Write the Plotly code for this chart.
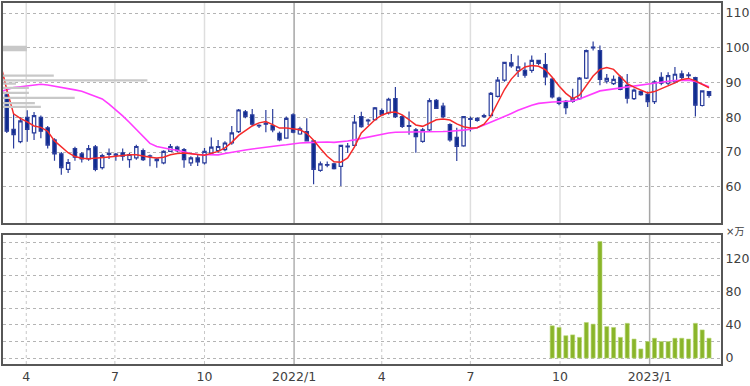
import pandas as pd
import plotly.graph_objects as go

# ---- weekly candles ----
dates = pd.date_range("2021-03-12", periods=104, freq="7D")
opens = [86.5, 76.5, 73.0, 80.0, 75.5, 80.0, 77.0, 73.5, 69.5, 65.0,
         71.0, 69.5, 68.0, 71.5, 65.5, 69.3, 69.4, 69.8, 67.8, 68.3,
         70.4, 68.8, 68.0, 66.9, 70.2, 71.4, 70.7, 66.9, 68.3, 66.9,
         69.7, 70.4, 70.7, 72.6, 75.9, 81.6, 80.7, 77.5, 78.3, 77.6,
         75.4, 74.0, 80.7, 75.2, 75.9, 73.2, 64.7, 66.4, 66.6, 65.9,
         71.5, 71.9, 80.2, 79.0, 79.3, 81.9, 81.3, 85.4, 80.2, 77.4,
         76.4, 73.1, 76.4, 84.9, 83.2, 77.9, 74.2, 71.8, 79.6, 79.1,
         80.2, 80.5, 86.0, 90.7, 95.7, 93.4, 93.5, 93.5, 96.4, 95.2,
         91.0, 85.5, 84.6, 84.6, 85.4, 91.3, 100.0, 99.2, 90.4, 89.7,
         91.6, 89.2, 85.4, 87.5, 86.6, 84.5, 91.5, 89.8, 90.2, 92.5,
         92.0, 91.4, 83.4, 87.4]
highs = [87.5, 81.0, 80.0, 82.0, 81.5, 80.5, 77.5, 74.0, 70.0, 68.0,
         71.5, 70.0, 72.0, 72.0, 69.5, 71.0, 69.7, 71.0, 69.7, 72.1,
         71.0, 69.3, 68.3, 70.5, 72.3, 71.8, 71.2, 68.8, 69.3, 71.2,
         74.2, 73.5, 73.1, 77.5, 82.4, 82.1, 82.4, 78.0, 82.1, 82.4,
         75.9, 80.2, 81.2, 77.3, 79.7, 73.5, 67.3, 67.3, 66.9, 72.1,
         72.6, 80.7, 81.6, 79.6, 83.0, 82.5, 85.6, 88.7, 80.7, 81.7,
         76.9, 76.9, 85.5, 85.3, 84.2, 78.3, 77.0, 80.3, 80.2, 80.0,
         81.0, 87.3, 91.6, 96.0, 98.2, 97.8, 95.8, 97.8, 96.6, 98.5,
         91.4, 85.9, 85.0, 88.2, 91.6, 99.5, 101.8, 100.7, 92.5, 92.0,
         92.0, 92.5, 88.3, 87.8, 87.4, 90.7, 93.0, 93.0, 94.5, 93.5,
         93.0, 91.7, 87.8, 87.6]
lows = [75.5, 71.0, 72.5, 73.0, 73.5, 74.0, 71.0, 67.5, 63.5, 64.0,
        67.5, 67.0, 67.5, 64.5, 65.0, 68.0, 67.5, 67.5, 65.5, 67.8,
        67.4, 65.9, 65.5, 66.5, 70.0, 70.0, 65.5, 66.0, 66.0, 66.4,
        69.3, 69.7, 70.2, 72.1, 75.5, 79.7, 77.6, 76.9, 75.7, 75.7,
        73.1, 73.8, 75.4, 75.0, 73.1, 60.7, 64.3, 65.6, 65.0, 60.2,
        69.7, 71.6, 77.0, 77.8, 79.0, 80.5, 80.8, 79.8, 76.9, 75.0,
        69.8, 72.7, 76.0, 82.4, 79.8, 73.0, 67.4, 71.5, 75.9, 78.7,
        79.8, 80.2, 85.7, 90.2, 94.3, 91.6, 91.4, 92.8, 95.0, 89.2,
        85.4, 83.5, 80.9, 84.2, 85.0, 91.0, 99.2, 89.2, 89.7, 89.3,
        87.8, 84.0, 85.0, 86.2, 83.0, 83.8, 89.2, 89.3, 89.8, 91.0,
        91.2, 80.2, 83.1, 85.6]
closes = [76.0, 75.0, 79.0, 76.5, 80.5, 76.0, 72.0, 69.5, 65.5, 67.0,
          68.5, 68.0, 71.0, 65.0, 69.0, 69.6, 69.1, 68.8, 69.3, 71.6,
          67.8, 68.9, 67.5, 70.2, 71.6, 70.4, 67.8, 68.3, 67.2, 70.2,
          71.4, 71.6, 72.6, 75.5, 82.1, 80.2, 78.0, 77.7, 78.0, 76.4,
          73.5, 79.7, 75.7, 76.7, 73.2, 65.0, 66.6, 66.2, 65.2, 71.9,
          71.7, 78.6, 77.3, 79.2, 82.7, 80.8, 85.2, 80.2, 77.4, 77.6,
          74.4, 76.4, 84.8, 82.6, 80.2, 73.5, 71.6, 80.2, 79.4, 79.7,
          80.5, 86.9, 90.7, 95.8, 94.8, 94.5, 92.1, 96.4, 95.5, 91.6,
          85.9, 84.0, 82.8, 85.5, 91.3, 99.2, 100.2, 90.9, 91.2, 90.9,
          88.0, 85.5, 87.8, 86.5, 84.5, 90.2, 89.8, 92.0, 92.4, 91.5,
          92.2, 83.5, 87.6, 86.3]

# ---- moving averages (one extra week before the first candle) ----
ma_dates = pd.date_range("2021-03-05", periods=105, freq="7D")
ma13 = [96.0, 88.0, 81.0, 79.7, 78.7, 77.5, 77.1, 76.0, 73.2, 71.6, 69.8,
        68.7, 68.2, 68.1, 68.2, 68.3, 68.6, 68.8, 69.1, 69.2, 69.2,
        68.8, 68.5, 68.3, 68.5, 69.2, 69.6, 69.7, 69.6, 69.3, 69.1,
        69.6, 70.2, 71.2, 72.8, 74.8, 76.2, 77.5, 78.4, 78.8, 77.9,
        76.9, 76.9, 76.7, 76.4, 75.4, 73.4, 71.0, 68.8, 67.2, 67.1,
        68.3, 71.5, 75.5, 77.5, 79.3, 80.6, 81.4, 81.5, 80.7, 79.3,
        77.8, 77.4, 78.3, 79.3, 79.5, 79.2, 78.1, 77.3, 76.9, 77.0,
        78.0, 80.4, 84.2, 88.0, 91.0, 93.1, 94.5, 94.9, 94.7, 93.7,
        91.5, 89.0, 86.9, 85.4, 86.4, 89.3, 91.9, 93.8, 94.3, 93.8,
        91.6, 89.7, 88.7, 87.8, 87.0, 87.4, 88.2, 88.9, 89.9, 90.9,
        91.2, 90.5, 89.5, 88.5]
ma26 = [87.3, 88.0, 88.6, 88.8, 89.1, 89.3, 89.5, 89.3, 89.0, 88.7, 88.3,
        87.9, 87.5, 86.8, 86.0, 85.3, 83.8, 82.2, 80.4, 78.5, 76.4,
        74.5, 72.5, 71.6, 71.1, 70.8, 70.5, 70.0, 69.6, 69.3, 69.2,
        69.1, 69.2, 69.6, 70.0, 70.3, 70.6, 70.9, 71.2, 71.4, 71.6,
        71.9, 72.1, 72.4, 72.6, 72.7, 72.8, 72.9, 72.9, 72.8, 72.9,
        73.2, 73.5, 73.9, 74.4, 74.8, 75.2, 75.5, 75.7, 75.7, 75.7,
        75.7, 75.8, 75.8, 75.9, 75.9, 76.0, 76.1, 76.3, 76.6, 77.0,
        77.8, 78.6, 79.3, 80.2, 81.1, 82.0, 82.8, 83.5, 84.0, 84.3,
        84.4, 84.5, 84.6, 84.7, 85.3, 86.1, 87.0, 87.6, 87.9, 88.2,
        88.4, 88.7, 89.0, 89.4, 89.7, 90.0, 90.3, 90.4, 90.6, 90.7,
        90.7, 90.3, 89.6, 88.8]

# ---- volume (x万), available for the last 24 weeks ----
vol_dates = dates[80:]
volume = [39, 37, 27, 28, 25, 43, 41, 141, 38, 37, 25, 42,
          23, 11, 20, 24, 20, 20, 24, 24, 23, 42, 34, 24]

# ---- volume-by-price profile ----
profile_price = [99.8, 92.0, 90.6, 89.7, 88.5, 87.0, 85.6, 84.1, 83.0]
profile_vol = [24, 51, 145, 13, 26, 26, 72, 32, 38]
profile_width = [1.6, 0.65, 0.65, 0.65, 0.65, 0.65, 0.65, 0.65, 0.65]

# ---- axis ticks ----
quarter_ticks = ["2021-04-01", "2021-07-01", "2021-10-01", "2022-01-01",
                 "2022-04-01", "2022-07-01", "2022-10-01", "2023-01-01"]
quarter_text = ["4", "7", "10", "2022/1", "4", "7", "10", "2023/1"]
year_lines = ["2022-01-01", "2023-01-01"]
price_ticks = [60, 70, 80, 90, 100, 110]
x_range = ["2021-03-08 03:00", "2023-03-15 07:00"]

FONT = "DejaVu Sans"
TXT = "#404040"
BORDER = "#575757"

fig = go.Figure()
fig.add_trace(go.Bar(
    y=profile_price, x=profile_vol, width=profile_width, orientation="h",
    xaxis="x3", yaxis="y", marker=dict(color="#c8c8c8", line=dict(width=0)),
    hoverinfo="skip", showlegend=False))
fig.add_trace(go.Candlestick(
    x=dates, open=opens, high=highs, low=lows, close=closes,
    increasing=dict(line=dict(color="#2a3d9c", width=1.2), fillcolor="white"),
    decreasing=dict(line=dict(color="#2a3d9c", width=1.2), fillcolor="#0d2b8e"),
    whiskerwidth=0, xaxis="x", yaxis="y", showlegend=False))
fig.add_trace(go.Scatter(x=ma_dates, y=ma26, mode="lines",
                         line=dict(color="#ff3cff", width=1.6),
                         xaxis="x", yaxis="y", showlegend=False))
fig.add_trace(go.Scatter(x=ma_dates, y=ma13, mode="lines",
                         line=dict(color="#f52a2a", width=1.5),
                         xaxis="x", yaxis="y", showlegend=False))
fig.add_trace(go.Bar(x=vol_dates, y=volume, xaxis="x2", yaxis="y2",
                     marker=dict(color="#8ab52a", line=dict(color="#b9d675", width=0.6)),
                     showlegend=False))

# vertical month gridlines: light for quarters, darker at year starts
shapes = []
for d in quarter_ticks:
    is_year = d in year_lines
    shapes.append(dict(type="line", xref="x", yref="y domain", x0=d, x1=d, y0=0, y1=1,
                       line=dict(color="#a6a6a6" if is_year else "#dedede", width=1.5),
                       layer="below"))
    shapes.append(dict(type="line", xref="x2", yref="y2 domain", x0=d, x1=d, y0=0, y1=1,
                       line=dict(color="#b0b0b0" if is_year else "#c8c8c8",
                                 width=1.5 if is_year else 1,
                                 dash="solid" if is_year else "dot"),
                       layer="below"))

fig.update_layout(
    width=750, height=386,
    margin=dict(l=1, r=28, t=1, b=22),
    paper_bgcolor="white", plot_bgcolor="white",
    showlegend=False, bargap=0.4,
    font=dict(family=FONT, color=TXT),
    shapes=shapes,
    xaxis=dict(type="date", range=x_range, domain=[0, 1], anchor="y",
               tickvals=quarter_ticks, showticklabels=False, ticks="",
               showgrid=False,
               showline=True, mirror=True, linecolor=BORDER, linewidth=2,
               zeroline=False, rangeslider=dict(visible=False)),
    yaxis=dict(domain=[0.3898, 1], range=[49.5, 112.9], side="right", anchor="x",
               tickvals=price_ticks, ticks="", showgrid=True, gridcolor="#b4b4b4",
               griddash="3px,3px", gridwidth=1,
               showline=True, mirror=True, linecolor=BORDER, linewidth=2,
               zeroline=False, tickfont=dict(size=12.5, color=TXT, family=FONT)),
    xaxis2=dict(type="date", matches="x", anchor="y2", domain=[0, 1],
                tickvals=quarter_ticks, ticktext=quarter_text, ticks="",
                showgrid=False,
                showline=True, mirror=True, linecolor=BORDER, linewidth=2,
                zeroline=False, tickfont=dict(size=12.5, color=TXT, family=FONT)),
    yaxis2=dict(domain=[0, 0.3573], range=[-7.2, 148.8], side="right", anchor="x2",
                tick0=0, dtick=40, ticks="", showgrid=True, gridcolor="#b4b4b4",
                griddash="3px,3px", gridwidth=1,
                minor=dict(dtick=20, showgrid=True, gridcolor="#b4b4b4",
                           griddash="3px,3px", gridwidth=1),
                showline=True, mirror=True, linecolor=BORDER, linewidth=2,
                zeroline=False, tickfont=dict(size=12.5, color=TXT, family=FONT)),
    xaxis3=dict(overlaying="x", anchor="y", range=[0, 721], visible=False,
                showgrid=False, zeroline=False),
    annotations=[dict(text="×万", xref="paper", yref="paper", x=1.004, y=0.366,
                      xanchor="left", yanchor="middle", showarrow=False,
                      font=dict(size=10, color=TXT, family="DejaVu Sans, Noto Sans CJK JP"))],
)

fig.write_html("out.html")
